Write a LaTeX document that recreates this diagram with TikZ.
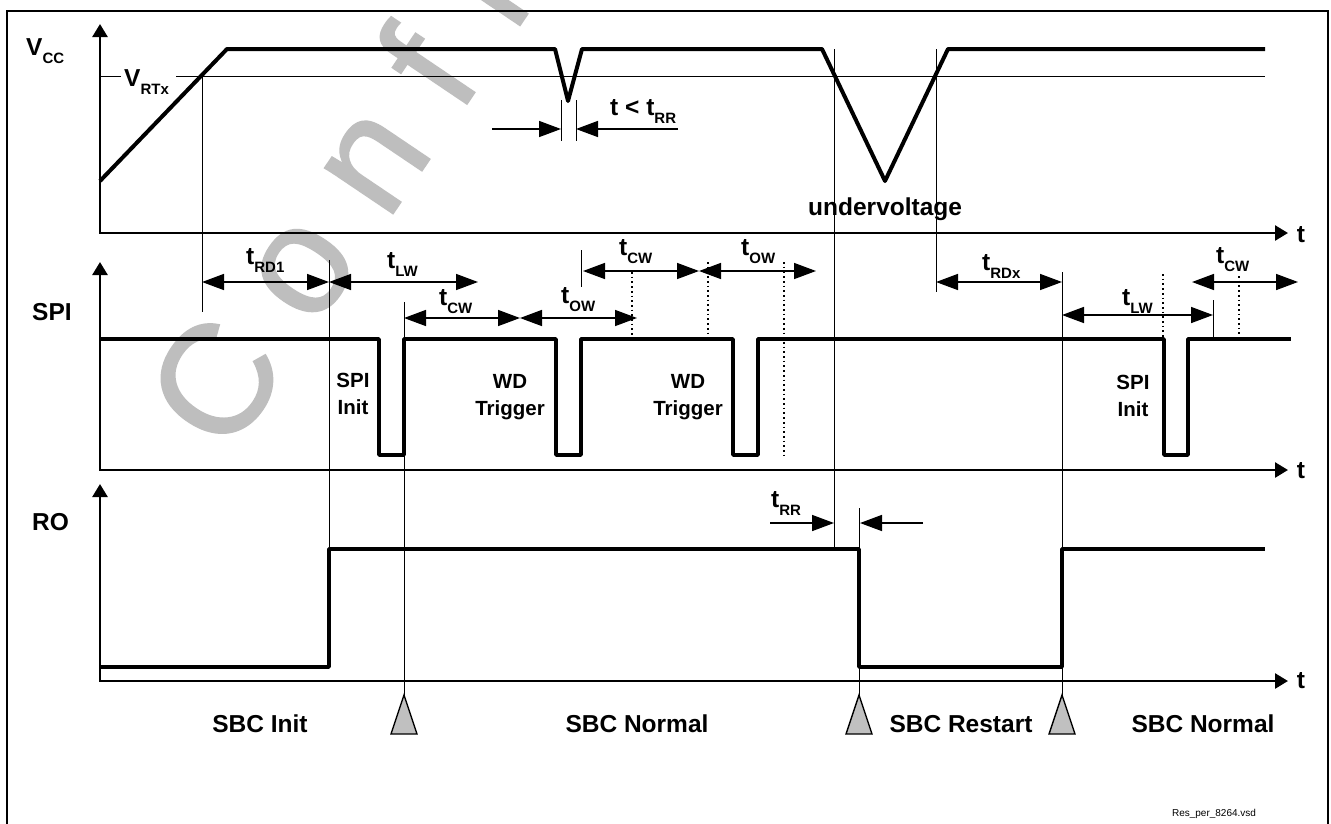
\documentclass[tikz,border=0pt]{standalone}
\usepackage{fontspec}
\setmainfont{Liberation Sans}
\newfontfamily\wmfont[FakeBold=1.2]{Liberation Sans}
\usetikzlibrary{arrows.meta}
\definecolor{wmgray}{RGB}{190,190,190}
\definecolor{trigray}{RGB}{192,192,192}
\newcommand\sbt[1]{\raisebox{-8pt}{\fontsize{15}{15}\selectfont #1}}
\begin{document}
\begin{tikzpicture}[x=1pt,y=-1pt,
  wave/.style={line width=3.5pt, line join=round},
  vwave/.style={line width=4pt, line join=round},
  axis/.style={line width=2.6pt, {Triangle[length=13pt,width=15pt]}-{Triangle[length=13pt,width=15pt]}},
  thin/.style={line width=1pt},
  dotl/.style={line width=1.7pt, dash pattern=on 1.7pt off 3pt},
  dim/.style={line width=1.5pt, {Triangle[length=22pt,width=16pt]}-{Triangle[length=22pt,width=16pt]}},
  single/.style={line width=1.5pt, -{Triangle[length=22pt,width=16pt]}},
  lbl/.style={font=\fontsize{24.5}{26}\selectfont\bfseries, inner sep=0pt},
  small/.style={font=\fontsize{20.5}{27}\selectfont\bfseries, inner sep=0pt, align=center, anchor=north},
  marker/.style={draw, fill=trigray, line width=1.4pt, line join=miter},
]
\useasboundingbox (0,0) rectangle (1331,823);
\fill[white] (0,0) rectangle (1331,823);
% watermark
\node[font=\wmfont\fontsize{155}{155}\selectfont, text=wmgray, rotate=56, anchor=base west, inner sep=0pt] (wm) at (228,458) {C o n f\kern 55pt i};
% frame
\draw[line width=1.2pt] (7,830) -- (7,11) -- (1328,11) -- (1328,830);

% axes
\draw[axis] (100,24) -- (100,233) -- (1288,233);
\draw[axis] (100,262) -- (100,470) -- (1288,470);
\draw[axis] (100,484) -- (100,681) -- (1288,681);
\node[lbl] (tx1) at (1301,235) {t};
\node[lbl] (tx2) at (1301,471) {t};
\node[lbl] (tx3) at (1301,681) {t};

% signal names
\node[lbl, anchor=base west] (vcc) at (26,55) {V\sbt{CC}};
\node[lbl, anchor=base west] (spi) at (32,320) {SPI};
\node[lbl, anchor=base west] (ro) at (32,530) {RO};

% threshold
\draw[thin] (100,76) -- (121,76);
\draw[thin] (176,76) -- (1265,76);
\node[lbl, anchor=base west] (vrtx) at (124,86) {V\sbt{RTx}};

% key coordinates
\coordinate (m1) at (404,695);
\coordinate (m2) at (859,695);
\coordinate (m3) at (1062,695);

% thin reference lines
\draw[thin] (202,76) -- (202,312);
\draw[thin] (834,49) -- (834,548);
\draw[thin] (936,49) -- (936,292);
\draw[thin] (561,100) -- (561,141);
\draw[thin] (576,100) -- (576,141);
\draw[thin] (329,260) -- (329,548);
\draw[thin] (404,302) -- (m1);
\draw[thin] (581,250) -- (581,287);
\draw[thin] (859,508) -- (m2);
\draw[thin] (1062,272) -- (m3);
\draw[thin] (1213,300) -- (1213,339);

% dotted lines
\draw[dotl] (632,272) -- (632,336);
\draw[dotl] (708,262) -- (708,336);
\draw[dotl] (784,262) -- (784,458);
\draw[dotl] (1163,274) -- (1163,338);
\draw[dotl] (1239,276) -- (1239,336);

% waveforms
\draw[vwave] (100,181) -- (227,49) -- (555,49) -- (568,101) -- (582,49) -- (822,49) -- (885,181) -- (948,49) -- (1265,49);
\draw[wave] (100,339) -- (379,339) -- (379,455) -- (404,455) -- (404,339)
  -- (556,339) -- (556,455) -- (581,455) -- (581,339)
  -- (733,339) -- (733,455) -- (758,455) -- (758,339)
  -- (1164,339) -- (1164,455) -- (1188,455) -- (1188,339) -- (1291,339);
\draw[wave] (100,667) -- (329,667) -- (329,549) -- (859,549) -- (859,667) -- (1062,667) -- (1062,549) -- (1265,549);

% dimension arrows
\draw[dim] (202,282) -- (329,282);
\draw[dim] (329,282) -- (478,282);
\draw[dim] (404,318) -- (520,318);
\draw[dim] (520,318) -- (637,318);
\draw[dim] (583,271) -- (699,271);
\draw[dim] (699,271) -- (816,271);
\draw[dim] (936,282) -- (1062,282);
\draw[dim] (1062,315) -- (1213,315);
\draw[dim] (1192,282) -- (1298,282);
\draw[single] (492,129) -- (561,129);
\draw[single] (678,129) -- (576,129);
\draw[single] (770,523) -- (834,523);
\draw[single] (923,523) -- (860,523);

% dimension labels
\node[lbl, anchor=base west] (lrd1) at (246,264) {t\sbt{RD1}};
\node[lbl, anchor=base west] (llw1) at (387,268) {t\sbt{LW}};
\node[lbl, anchor=base west] (lcw1) at (439,305) {t\sbt{CW}};
\node[lbl, anchor=base west] (low1) at (561,303) {t\sbt{OW}};
\node[lbl, anchor=base west] (lcw2) at (619,255) {t\sbt{CW}};
\node[lbl, anchor=base west] (low2) at (741,255) {t\sbt{OW}};
\node[lbl, anchor=base west] (lrdx) at (982,270) {t\sbt{RDx}};
\node[lbl, anchor=base west] (llw2) at (1122,305) {t\sbt{LW}};
\node[lbl, anchor=base west] (lcw3) at (1216,263) {t\sbt{CW}};
\node[lbl, anchor=base west] (lrr) at (771,507) {t\sbt{RR}};
\node[lbl, anchor=base west] (ltrr) at (610,115) {t < t\sbt{RR}};
\node[lbl, anchor=base west] (uv) at (808,215) {undervoltage};

% pulse labels
\node[small] (spii1) at (353,373) {SPI\\Init};
\node[small] (wd1) at (510,374) {WD\\Trigger};
\node[small] (wd2) at (688,374) {WD\\Trigger};
\node[small] (spii2) at (1133,375) {SPI\\Init};

% state markers
\draw[marker] (m1) -- ++(-13,39) -- ++(26,0) -- cycle;
\draw[marker] (m2) -- ++(-13,39) -- ++(26,0) -- cycle;
\draw[marker] (m3) -- ++(-13,39) -- ++(26,0) -- cycle;

% state labels
\node[lbl, anchor=base] (s1) at (260,732) {SBC Init};
\node[lbl, anchor=base] (s2) at (637,732) {SBC Normal};
\node[lbl, anchor=base] (s3) at (961,732) {SBC Restart};
\node[lbl, anchor=base] (s4) at (1203,732) {SBC Normal};

\node[font=\fontsize{10}{10}\selectfont, anchor=base, inner sep=0pt] (fn) at (1214,816) {Res\_per\_8264.vsd};
\end{tikzpicture}
\end{document}
